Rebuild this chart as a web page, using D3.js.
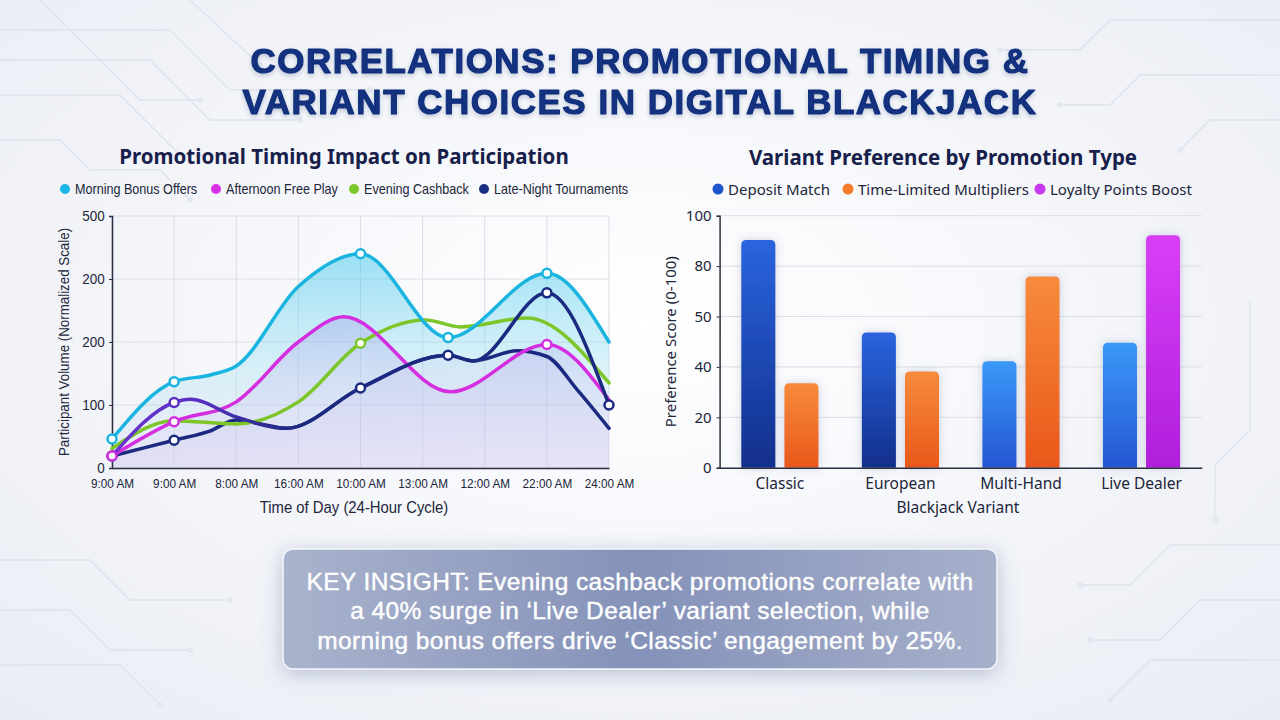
<!DOCTYPE html>
<html>
<head>
<meta charset="utf-8">
<script src="https://cdn.jsdelivr.net/npm/d3@7"></script>
<style>
  body { margin: 0; background: #f1f3f8; }
  svg { display: block; font-family: 'Noto Sans', sans-serif; }
</style>
</head>
<body>
<svg id="chart" width="1280" height="720"></svg>
<script>
// ---- data: left chart (time of day) ----
const timeLabels = ['9:00 AM', '9:00 AM', '8:00 AM', '16:00 AM', '10:00 AM', '13:00 AM', '12:00 AM', '22:00 AM', '24:00 AM'];
const volumeTicks = [0, 100, 200, 300, 400];
const volumeTickLabels = ['0', '100', '200', '200', '500'];
const lineNames = ['Morning Bonus Offers', 'Afternoon Free Play', 'Evening Cashback', 'Late-Night Tournaments'];

// [slot on time axis, participant volume]
const morningBonus = [[0, 46], [1, 137], [1.6, 148], [2, 162], [3, 288], [4, 340], [5.41, 207], [7, 309], [8, 200]];
const afternoonFree = [[0, 19], [1, 73.5], [2, 105], [3, 200], [3.73, 240], [5.45, 121], [7, 196], [8, 108]];
const eveningCashback = [[0, 31], [1, 75], [2, 70], [3, 105], [4, 198], [5.05, 235], [5.6, 224], [6.68, 238], [8, 135]];
const lateNight = [[0, 19], [1, 104], [1.26, 109], [2, 81], [2.81, 63], [4, 127], [5.41, 179], [5.82, 170], [7, 278], [8, 100]];
const lateNightLow = [[0, 19], [1, 44], [1.56, 58], [2, 76], [2.39, 70], [2.81, 63], [4, 127], [5.41, 179], [5.82, 170], [6.52, 186], [7, 177], [7.49, 124], [8, 63]];

// slots that carry a marker
const morningMarks = [0, 1, 4, 5.41, 7];
const afternoonMarks = [0, 1, 7];
const eveningMarks = [4];
const lateNightMarks = [1, 4, 5.41, 7, 8];
const lateNightLowMarks = [0, 1];

// ---- data: right chart (variants) ----
const variants = ['Classic', 'European', 'Multi-Hand', 'Live Dealer'];
const promoTypes = ['Deposit Match', 'Time-Limited Multipliers', 'Loyalty Points Boost'];
const depositMatch = [90.4, 53.7, 42.2, 49.6];
const timeLimited = [33.5, 38.2, 75.9, null];
const loyaltyBoost = [null, null, null, 92.2];
const scoreTicks = [0, 20, 40, 60, 80, 100];
const scoreTickLabels = ['0', '20', '40', '50', '80', '100'];

const titleLines = ['CORRELATIONS: PROMOTIONAL TIMING &', 'VARIANT CHOICES IN DIGITAL BLACKJACK'];
const insightLines = [
  'KEY INSIGHT: Evening cashback promotions correlate with',
  'a 40% surge in \u2018Live Dealer\u2019 variant selection, while',
  'morning bonus offers drive \u2018Classic\u2019 engagement by 25%.'
];

const svg = d3.select('#chart');
const defs = svg.append('defs');
const narrow = "'Liberation Sans', Arial, sans-serif";

// ---- helpers ----
const linearGrad = (id, stops, x2 = '0', y2 = '1') => {
  const g = defs.append('linearGradient').attr('id', id)
    .attr('x1', 0).attr('y1', 0).attr('x2', x2).attr('y2', y2);
  stops.forEach(([o, c, a = 1]) => g.append('stop').attr('offset', o).attr('stop-color', c).attr('stop-opacity', a));
  return `url(#${id})`;
};

// rounded-top bar path
const barPath = (x, y, w, h, r) => {
  r = Math.min(r, h);
  return `M${x},${y + h}V${y + r}Q${x},${y} ${x + r},${y}H${x + w - r}Q${x + w},${y} ${x + w},${y + r}V${y + h}Z`;
};

// condensed-looking text: squeeze horizontally around its anchor point
const narrowText = (parent, { x, y, text, size, sx = 0.9, anchor = 'start', rotate = 0 }) =>
  parent.append('text')
    .attr('transform', `translate(${x},${y}) rotate(${rotate}) scale(${sx},1)`)
    .attr('text-anchor', anchor)
    .style('font-family', narrow)
    .style('font-size', size)
    .attr('fill', '#22263a')
    .text(text);

// ---- background ----
const bg = defs.append('radialGradient').attr('id', 'bg').attr('cx', '50%').attr('cy', '45%').attr('r', '75%');
bg.append('stop').attr('offset', 0).attr('stop-color', '#ffffff');
bg.append('stop').attr('offset', 1).attr('stop-color', '#e9ecf4');
svg.append('rect').attr('width', 1280).attr('height', 720).attr('fill', 'url(#bg)');

// faint circuit traces in the corners
const traces = [
  [[0, 30], [170, 30], [230, 90], [370, 90]],
  [[0, 60], [150, 60], [210, 120], [300, 120]],
  [[0, 95], [120, 95], [180, 155], [230, 155]],
  [[40, 0], [140, 100], [200, 100]],
  [[190, 0], [260, 65]],
  [[0, 140], [60, 140], [90, 170], [160, 170], [190, 200]],
  [[1280, 20], [1110, 20], [1080, 50], [1000, 50]],
  [[1280, 75], [1140, 75], [1110, 105], [1060, 105]],
  [[1280, 120], [1210, 120], [1180, 150]],
  [[0, 560], [90, 560], [130, 600], [230, 600]],
  [[0, 610], [70, 610], [110, 650], [190, 650]],
  [[0, 665], [120, 665], [160, 705]],
  [[1280, 545], [1170, 545], [1130, 585], [1080, 585]],
  [[1280, 600], [1200, 600], [1160, 640], [1090, 640]],
  [[1280, 660], [1150, 660], [1110, 700]],
  [[1250, 300], [1250, 430], [1215, 465], [1215, 520]]
];
const traceG = svg.append('g').attr('fill', 'none').attr('stroke', '#dde2ec').attr('stroke-width', 1.3);
traces.forEach((t) => {
  traceG.append('path').attr('d', d3.line()(t));
  const end = t[t.length - 1];
  traceG.append('circle').attr('cx', end[0]).attr('cy', end[1]).attr('r', 3).attr('fill', '#e3e7ef').attr('stroke', 'none');
});

// ---- main title ----
const shadow = defs.append('filter').attr('id', 'tshadow').attr('x', '-10%').attr('y', '-30%').attr('width', '120%').attr('height', '160%');
shadow.append('feDropShadow').attr('dx', 0).attr('dy', 2).attr('stdDeviation', 2).attr('flood-color', '#1b2a60').attr('flood-opacity', 0.25);

svg.append('g')
  .attr('filter', 'url(#tshadow)')
  .selectAll('text')
  .data(titleLines)
  .join('text')
  .attr('x', 640)
  .attr('y', (d, i) => 73 + i * 41)
  .attr('text-anchor', 'middle')
  .style('font-family', narrow)
  .style('font-weight', 700)
  .style('font-size', '35px')
  .style('letter-spacing', '1.5px')
  .attr('fill', '#12307e')
  .attr('stroke', '#12307e')
  .attr('stroke-width', 1.1)
  .attr('stroke-linejoin', 'round')
  .text((d) => d);

// ===================== LEFT: line chart =====================
const L = { x0: 112, x1: 609, y0: 468, y1: 216 };
const xL = d3.scaleLinear().domain([0, timeLabels.length - 1]).range([L.x0, L.x1]);
const yL = d3.scaleLinear().domain([0, 400]).range([L.y0, L.y1]);
const left = svg.append('g');

left.append('text')
  .attr('x', 344).attr('y', 164)
  .attr('text-anchor', 'middle')
  .style('font-size', '20.5px').style('font-weight', 700)
  .attr('fill', '#17204a')
  .text('Promotional Timing Impact on Participation');

// legend
const lineColors = ['#19b6e6', '#d631e6', '#7dc82a', '#1b2f82'];
const legendLX = [65, 216, 354, 484];
const legL = left.append('g');
lineNames.forEach((name, i) => {
  legL.append('circle').attr('cx', legendLX[i]).attr('cy', 189).attr('r', 5).attr('fill', lineColors[i]);
  narrowText(legL, { x: legendLX[i] + 10, y: 194, text: name, size: '14px', sx: 0.9 });
});

// grid
const gridL = left.append('g').attr('stroke', '#dcdee5').attr('stroke-width', 1);
gridL.selectAll('line.v').data(d3.range(timeLabels.length)).join('line')
  .attr('x1', (d) => xL(d)).attr('x2', (d) => xL(d)).attr('y1', L.y1).attr('y2', L.y0);
gridL.selectAll('line.h').data(volumeTicks).join('line')
  .attr('x1', L.x0).attr('x2', L.x1).attr('y1', (d) => yL(d)).attr('y2', (d) => yL(d));

// area fills
const cyanFill = linearGrad('cyanFill', [[0, '#3cc6ee', 0.5], [0.55, '#a9e2f3', 0.38], [1, '#d9d3f2', 0.25]]);
const lavFill = linearGrad('lavFill', [[0, '#9b86e0', 0.28], [1, '#c9bff0', 0.08]]);
const area = d3.area().x((d) => xL(d[0])).y0(yL(0)).y1((d) => yL(d[1])).curve(d3.curveMonotoneX);
left.append('path').datum(morningBonus).attr('d', area).attr('fill', cyanFill);
left.append('path').datum(afternoonFree).attr('d', area).attr('fill', lavFill);
left.append('path').datum(lateNightLow).attr('d', area).attr('fill', '#b5a6e6').attr('opacity', 0.12);

// axes
const yAxisL = d3.axisLeft(yL).tickValues(volumeTicks).tickFormat((d, i) => volumeTickLabels[i]).tickSize(3).tickPadding(5);
const xAxisL = d3.axisBottom(xL).tickValues(d3.range(timeLabels.length)).tickFormat((d) => timeLabels[d]).tickSize(0).tickPadding(10);
const styleAxis = (g, size, family, sx = 1) => {
  g.select('.domain').attr('stroke', '#2b2f3f').attr('stroke-width', 1.5);
  g.selectAll('.tick line').attr('stroke', '#2b2f3f');
  g.selectAll('.tick text').style('font-size', size).style('font-family', family).attr('fill', '#22263a');
  if (sx !== 1) g.selectAll('.tick text').attr('transform', `scale(${sx},1)`);
};
left.append('g').attr('transform', `translate(${L.x0},0)`).call(yAxisL).call((g) => styleAxis(g, '15px', narrow, 0.9));
left.append('g').attr('transform', `translate(0,${L.y0})`).call(xAxisL).call((g) => styleAxis(g, '13.5px', narrow, 0.87));

narrowText(left, { x: 69, y: (L.y0 + L.y1) / 2, rotate: -90, anchor: 'middle', text: 'Participant Volume (Normalized Scale)', size: '14.5px', sx: 0.92 });
narrowText(left, { x: 354, y: 513, anchor: 'middle', text: 'Time of Day (24-Hour Cycle)', size: '16px', sx: 0.93 });

// lines
const line = d3.line().x((d) => xL(d[0])).y((d) => yL(d[1])).curve(d3.curveMonotoneX);
const lateGrad = defs.append('linearGradient').attr('id', 'lateGrad').attr('gradientUnits', 'userSpaceOnUse')
  .attr('x1', xL(0)).attr('x2', xL(3)).attr('y1', 0).attr('y2', 0);
lateGrad.append('stop').attr('offset', 0).attr('stop-color', '#6a33d2');
lateGrad.append('stop').attr('offset', 0.45).attr('stop-color', '#5a2fc4');
lateGrad.append('stop').attr('offset', 1).attr('stop-color', '#1b2a80');

const series = [
  { data: lateNightLow, marks: lateNightLowMarks, color: '#1b2a80' },
  { data: eveningCashback, marks: eveningMarks, color: '#7cc62a' },
  { data: afternoonFree, marks: afternoonMarks, color: '#d42ee0' },
  { data: lateNight, marks: lateNightMarks, color: 'url(#lateGrad)', mark: '#1b2a80' },
  { data: morningBonus, marks: morningMarks, color: '#1ab4e0' }
];
series.forEach((s) => {
  left.append('path').datum(s.data).attr('d', line)
    .attr('fill', 'none').attr('stroke', s.color).attr('stroke-width', 3.5).attr('stroke-linecap', 'round');
});
series.forEach((s) => {
  left.selectAll(null)
    .data(s.data.filter((d) => s.marks.includes(d[0])))
    .join('circle')
    .attr('cx', (d) => xL(d[0])).attr('cy', (d) => yL(d[1])).attr('r', 4.5)
    .attr('fill', '#ffffff')
    .attr('stroke', (d) => (s.mark ? (d[0] === 1 ? '#5a2fc4' : s.mark) : s.color))
    .attr('stroke-width', 2.5);
});

// ===================== RIGHT: grouped bars =====================
const R = { x0: 719.6, x1: 1201.8, y0: 467.7, y1: 215.7 };
const xB = d3.scaleBand().domain(variants).range([R.x0, R.x1]).paddingInner(0.36).paddingOuter(0.18);
const xSlot = d3.scaleBand().domain([0, 1]).range([0, xB.bandwidth()]).paddingInner(0.21);
const yB = d3.scaleLinear().domain([0, 100]).range([R.y0, R.y1]);
const right = svg.append('g');

right.append('text')
  .attr('x', 943).attr('y', 165)
  .attr('text-anchor', 'middle')
  .style('font-size', '20.5px').style('font-weight', 700)
  .attr('fill', '#17204a')
  .text('Variant Preference by Promotion Type');

const legendColors = ['#1f55cc', '#f57a2c', '#c63af0'];
const legendRX = [718, 848, 1040];
promoTypes.forEach((name, i) => {
  right.append('circle').attr('cx', legendRX[i]).attr('cy', 189).attr('r', 5.5).attr('fill', legendColors[i]);
  right.append('text').attr('x', legendRX[i] + 10).attr('y', 194.5)
    .style('font-size', '15px').attr('fill', '#22263a').text(name);
});

// grid
right.append('g').selectAll('line').data(scoreTicks.slice(1)).join('line')
  .attr('x1', R.x0).attr('x2', R.x1).attr('y1', (d) => yB(d)).attr('y2', (d) => yB(d))
  .attr('stroke', '#dcdee5');

// bar gradients
const depDark = linearGrad('depDark', [[0, '#2a64de'], [1, '#112f8c']]);
const depLight = linearGrad('depLight', [[0, '#3a98f8'], [1, '#2556d2']]);
const tlFill = linearGrad('tlFill', [[0, '#f78b3c'], [1, '#e8581a']]);
const loyFill = linearGrad('loyFill', [[0, '#d93ef6'], [1, '#b01fdc']]);
const depositFills = [depDark, depDark, depLight, depLight];

const barShadow = defs.append('filter').attr('id', 'barShadow').attr('x', '-40%').attr('y', '-10%').attr('width', '180%').attr('height', '120%');
barShadow.append('feDropShadow').attr('dx', 0).attr('dy', 0).attr('stdDeviation', 4).attr('flood-color', '#5a6a9a').attr('flood-opacity', 0.3);

// per variant, the promotions it has values for fill its two slots
const bars = variants.flatMap((v, i) => {
  const vals = [
    { value: depositMatch[i], fill: depositFills[i] },
    { value: timeLimited[i], fill: tlFill },
    { value: loyaltyBoost[i], fill: loyFill }
  ].filter((d) => d.value != null);
  return vals.map((d, slot) => ({ variant: v, slot, ...d }));
});
right.append('g').attr('filter', 'url(#barShadow)')
  .selectAll('path').data(bars).join('path')
  .attr('d', (d) => barPath(xB(d.variant) + xSlot(d.slot), yB(d.value), xSlot.bandwidth(), yB(0) - yB(d.value), 5))
  .attr('fill', (d) => d.fill);

// axes
const yAxisR = d3.axisLeft(yB).tickValues(scoreTicks).tickFormat((d, i) => scoreTickLabels[i]).tickSize(3).tickPadding(5);
const xAxisR = d3.axisBottom(xB).tickSize(0).tickPadding(10);
right.append('g').attr('transform', `translate(${R.x0},0)`).call(yAxisR).call((g) => styleAxis(g, '15px', "'Noto Sans', sans-serif"));
right.append('g').attr('transform', `translate(0,${R.y0})`).call(xAxisR).call((g) => styleAxis(g, '15.5px', "'Noto Sans', sans-serif"));

right.append('text')
  .attr('transform', `translate(676,${(R.y0 + R.y1) / 2}) rotate(-90)`)
  .attr('text-anchor', 'middle')
  .style('font-size', '15px').attr('fill', '#22263a')
  .text('Preference Score (0-100)');
right.append('text')
  .attr('x', 958).attr('y', 513)
  .attr('text-anchor', 'middle')
  .style('font-size', '15.5px').attr('fill', '#22263a')
  .text('Blackjack Variant');

// ===================== insight box =====================
const glow = defs.append('filter').attr('id', 'glow').attr('x', '-20%').attr('y', '-40%').attr('width', '140%').attr('height', '180%');
glow.append('feDropShadow').attr('dx', 0).attr('dy', 4).attr('stdDeviation', 10).attr('flood-color', '#7080a8').attr('flood-opacity', 0.45);
const boxFill = linearGrad('boxFill', [[0, '#a9b3cd'], [0.5, '#8592b9'], [1, '#a6b0cb']], '1', '0');

svg.append('rect')
  .attr('x', 283).attr('y', 549).attr('width', 714).attr('height', 120).attr('rx', 10)
  .attr('fill', boxFill).attr('stroke', '#f4f6fb').attr('stroke-width', 1.5)
  .attr('filter', 'url(#glow)');
svg.append('g').selectAll('text').data(insightLines).join('text')
  .attr('x', 640).attr('y', (d, i) => 590 + i * 29.3)
  .attr('text-anchor', 'middle')
  .style('font-family', narrow)
  .style('font-size', '24.5px')
  .style('letter-spacing', '0.4px')
  .attr('fill', '#ffffff')
  .attr('stroke', '#ffffff').attr('stroke-width', 0.4)
  .text((d) => d);
</script>
</body>
</html>
